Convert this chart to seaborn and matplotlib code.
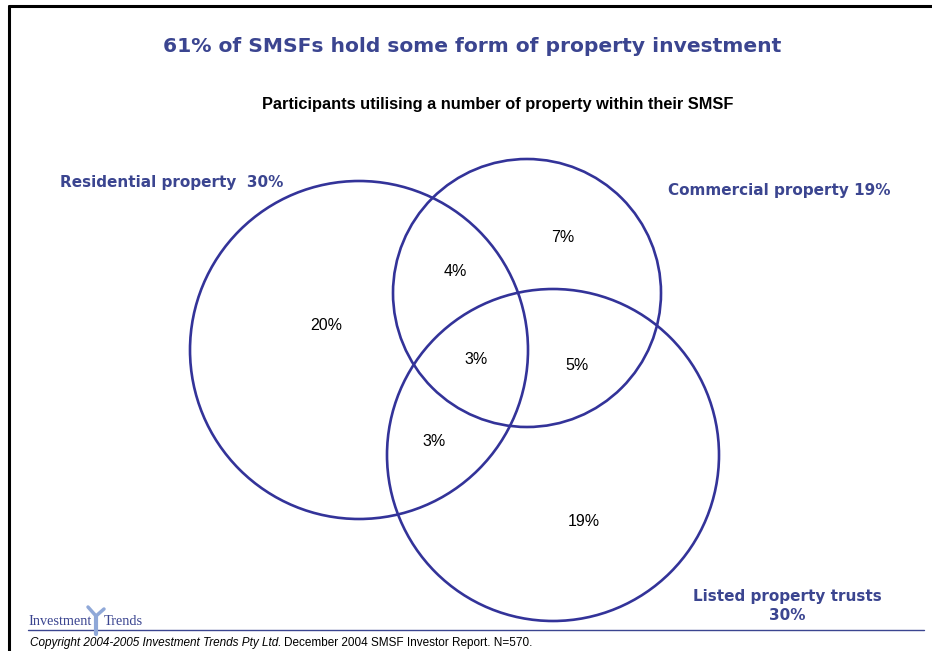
import matplotlib
matplotlib.use("Agg")
import matplotlib.pyplot as plt
import seaborn as sns
from matplotlib.patches import Circle

# Venn sets: name label, centre (px), radius (px)
set_labels = ["Residential property  30%", "Commercial property 19%", "Listed property trusts\n30%"]
set_cx = [359, 527, 553]
set_cy = [350, 293, 455]
set_r = [169, 134, 166]

# region values and where they sit
region_values = ["20%", "4%", "7%", "3%", "5%", "3%", "19%"]
region_x = [326, 455, 563, 476, 577, 434, 584]
region_y = [326, 271, 237, 360, 366, 441, 522]

title = "61% of SMSFs hold some form of property investment"
subtitle = "Participants utilising a number of property within their SMSF"

sns.set_style("white")
plt.rcParams['font.family'] = ['DejaVu Sans']

blue = "#333399"
text_blue = "#3b4590"

fig = plt.figure(figsize=(9.32, 6.51), dpi=100)
ax = fig.add_axes([0, 0, 1, 1])
ax.set_xlim(0, 932)
ax.set_ylim(651, 0)
ax.set_aspect("equal")
ax.axis("off")

# frame lines (top and left only)
ax.plot([9, 932], [6, 6], color="black", lw=2.2)
ax.plot([9, 9], [6, 651], color="black", lw=2.2)

ax.text(472, 46, title, ha="center", va="center", fontsize=14.6, fontweight="bold",
        color=text_blue, family="DejaVu Sans")
ax.text(498, 105, subtitle, ha="center", va="center", fontsize=11.8, fontweight="bold",
        color="black", family="Liberation Sans")

for cx, cy, r in zip(set_cx, set_cy, set_r):
    ax.add_patch(Circle((cx, cy), r, fill=False, ec=blue, lw=1.9))

for v, x, y in zip(region_values, region_x, region_y):
    ax.text(x, y, v, ha="center", va="center", fontsize=11.5, color="black",
            family="Liberation Sans")

ax.text(60, 183, set_labels[0], ha="left", va="center", fontsize=11, fontweight="bold",
        color=text_blue, family="DejaVu Sans")
ax.text(891, 190, set_labels[1], ha="right", va="center", fontsize=11, fontweight="bold",
        color=text_blue, family="DejaVu Sans")
ax.text(787, 606, set_labels[2], ha="center", va="center", fontsize=11, fontweight="bold",
        color=text_blue, family="DejaVu Sans", linespacing=1.25)

# footer: logo + rule + copyright
ax.plot([28, 924], [630, 630], color=text_blue, lw=1.0)
ax.text(28, 628, "Investment", ha="left", va="bottom", fontsize=10.3, color=text_blue,
        family="Liberation Serif")
ax.text(104, 628, "Trends", ha="left", va="bottom", fontsize=10.3, color=text_blue,
        family="Liberation Serif")
ax.plot([88, 96, 104], [607, 616, 609], color="#8fa8d8", lw=2.5, solid_capstyle="round")
ax.plot([96, 96], [616, 634], color="#8fa8d8", lw=3)

t1 = ax.text(30, 643, "Copyright 2004-2005 Investment Trends Pty Ltd.", ha="left", va="center",
             fontsize=8.5, style="italic", color="black", family="Liberation Sans")
fig.canvas.draw()
bb = t1.get_window_extent(fig.canvas.get_renderer())
x_end = ax.transData.inverted().transform((bb.x1, bb.y0))[0]
ax.text(x_end + 3, 643, "December 2004 SMSF Investor Report. N=570.", ha="left", va="center",
        fontsize=8.5, color="black", family="Liberation Sans")

fig.savefig("out.png", dpi=100)
